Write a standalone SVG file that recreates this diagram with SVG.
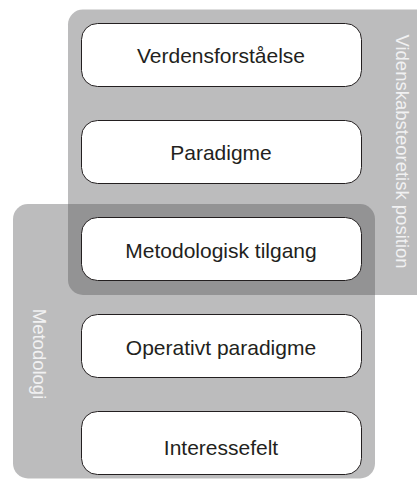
<svg xmlns="http://www.w3.org/2000/svg" width="417" height="481" viewBox="0 0 417 481">
<style>
.panel{fill:rgb(82,83,86);fill-opacity:0.39}
.box{fill:#ffffff;stroke:#231f20;stroke-width:1}
.lbl{font-family:"Liberation Sans",Arial,sans-serif;font-size:21px;fill:#231f20;text-anchor:middle}
.vlbl{font-family:"Liberation Sans",Arial,sans-serif;font-size:18.5px;fill:#f1f1f2;text-anchor:middle}
</style>
<rect width="417" height="481" fill="#ffffff"/>
<g id="panel-videnskab">
<rect class="panel" x="68" y="9.5" width="365" height="285.5" rx="15"/>
<text class="vlbl" transform="translate(396 151.5) rotate(90)">Videnskabsteoretisk position</text>
</g>
<g id="panel-metodologi">
<rect class="panel" x="13" y="204" width="362" height="274.5" rx="15"/>
<text class="vlbl" transform="translate(33 354) rotate(90)">Metodologi</text>
</g>
<g id="connectors"></g>
<g id="n1">
<rect class="box" x="81.5" y="23.5" width="280" height="63" rx="16"/>
<text class="lbl" x="221" y="63">Verdensforståelse</text>
</g>
<g id="n2">
<rect class="box" x="81.5" y="120.5" width="280" height="63" rx="16"/>
<text class="lbl" x="221" y="160">Paradigme</text>
</g>
<g id="n3">
<rect class="box" x="81.5" y="217.5" width="280" height="63" rx="16"/>
<text class="lbl" x="221" y="258">Metodologisk tilgang</text>
</g>
<g id="n4">
<rect class="box" x="81.5" y="314.5" width="280" height="63" rx="16"/>
<text class="lbl" x="221" y="355">Operativt paradigme</text>
</g>
<g id="n5">
<rect class="box" x="81.5" y="411.5" width="280" height="63" rx="16"/>
<text class="lbl" x="221" y="455">Interessefelt</text>
</g>
</svg>
